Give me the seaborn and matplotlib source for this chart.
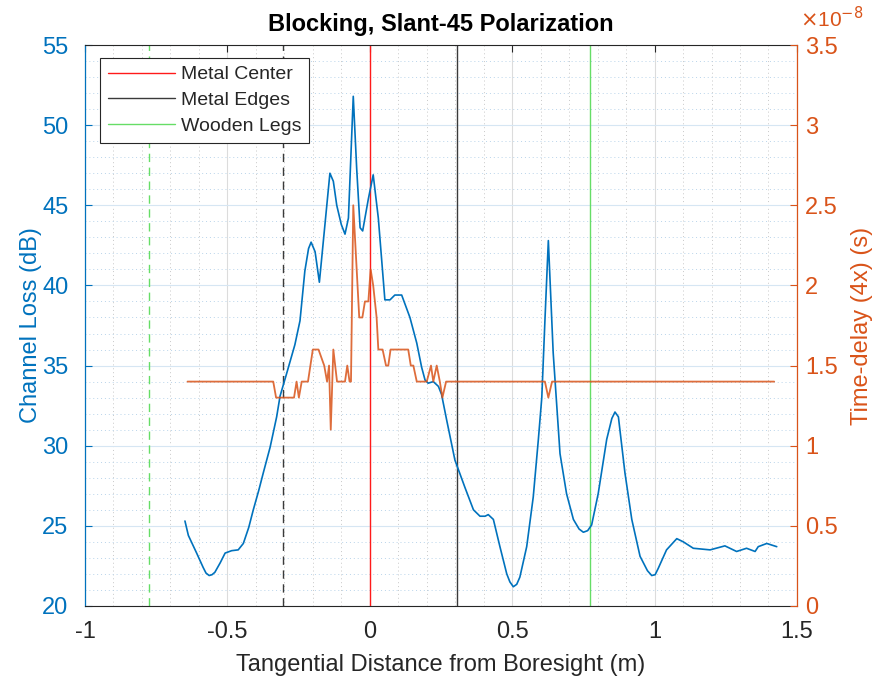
import matplotlib
matplotlib.use("Agg")
import matplotlib.pyplot as plt
from matplotlib.ticker import MultipleLocator, FuncFormatter
import pandas as pd
import seaborn as sns

# Channel loss vs. tangential distance (m, dB)
distance_loss = [
    -0.649, -0.637, -0.608, -0.585, -0.575, -0.564, -0.554, -0.544, -0.525, -0.508,
    -0.485, -0.462, -0.444, -0.425, -0.409, -0.390, -0.374, -0.350, -0.327, -0.315,
    -0.292, -0.263, -0.245, -0.228, -0.215, -0.206, -0.192, -0.177, -0.140, -0.128,
    -0.116, -0.100, -0.087, -0.075, -0.058, -0.046, -0.034, -0.025, -0.005, 0.012,
    0.030, 0.053, 0.071, 0.088, 0.112, 0.141, 0.165, 0.182, 0.194, 0.205,
    0.223, 0.241, 0.252, 0.270, 0.299, 0.334, 0.364, 0.387, 0.405, 0.416,
    0.434, 0.457, 0.481, 0.492, 0.504, 0.516, 0.527, 0.551, 0.574, 0.592,
    0.604, 0.615, 0.627, 0.644, 0.668, 0.691, 0.715, 0.735, 0.750, 0.765,
    0.779, 0.802, 0.832, 0.850, 0.861, 0.873, 0.896, 0.920, 0.949, 0.975,
    0.990, 1.002, 1.013, 1.042, 1.078, 1.101, 1.136, 1.195, 1.247, 1.288,
    1.323, 1.353, 1.364, 1.394, 1.429,
]
channel_loss_db = [
    25.3, 24.4, 23.3, 22.4, 22.05, 21.9, 21.95, 22.1, 22.7, 23.3,
    23.45, 23.5, 23.9, 24.9, 26.0, 27.2, 28.3, 29.9, 31.8, 33.1,
    34.5, 36.3, 37.8, 40.9, 42.3, 42.7, 42.1, 40.2, 47.0, 46.5,
    45.0, 43.8, 43.2, 44.2, 51.8, 47.3, 43.6, 43.4, 45.4, 46.9,
    44.2, 39.1, 39.1, 39.4, 39.4, 38.0, 36.4, 34.9, 34.1, 33.9,
    34.0, 33.7, 33.2, 31.6, 29.1, 27.4, 26.0, 25.6, 25.6, 25.7,
    25.4, 23.7, 22.0, 21.5, 21.2, 21.35, 21.8, 23.7, 26.8, 30.4,
    33.0, 37.8, 42.8, 35.8, 29.5, 27.0, 25.4, 24.8, 24.6, 24.7,
    25.05, 27.0, 30.4, 31.7, 32.1, 31.8, 28.3, 25.4, 23.1, 22.2,
    21.9, 21.95, 22.35, 23.5, 24.2, 24.0, 23.6, 23.5, 23.75, 23.4,
    23.6, 23.4, 23.7, 23.9, 23.7,
]

# Time-delay (4x) vs. tangential distance, in units of 1e-8 s
distance_delay = [
    -0.640, -0.339, -0.329, -0.266, -0.257, -0.249, -0.239, -0.217, -0.200, -0.180,
    -0.160, -0.150, -0.143, -0.137, -0.128, -0.115, -0.087, -0.079, -0.071, -0.066,
    -0.058, -0.037, -0.026, -0.017, -0.005, 0.003, 0.012, 0.024, 0.030, 0.045,
    0.057, 0.065, 0.073, 0.135, 0.144, 0.153, 0.165, 0.200, 0.215, 0.223,
    0.235, 0.246, 0.255, 0.268, 0.615, 0.627, 0.640, 1.420,
]
time_delay_e8 = [
    1.4, 1.4, 1.3, 1.3, 1.4, 1.3, 1.4, 1.4, 1.6, 1.6,
    1.5, 1.4, 1.5, 1.1, 1.6, 1.4, 1.4, 1.5, 1.4, 1.4,
    2.5, 1.8, 1.8, 1.9, 1.9, 2.1, 2.0, 1.8, 1.6, 1.6,
    1.5, 1.5, 1.6, 1.6, 1.5, 1.5, 1.4, 1.4, 1.5, 1.4,
    1.5, 1.4, 1.3, 1.4, 1.4, 1.3, 1.4, 1.4,
]
DELAY_UNIT = 1e-8

# Obstacle reference positions (m)
metal_center = 0.0
metal_edges = [-0.305, 0.305]
wooden_legs = [-0.775, 0.775]

BLUE = "#0072BD"
ORANGE = "#D95319"
DARK = "#262626"

loss_df = pd.DataFrame({"distance": distance_loss, "loss": channel_loss_db})
delay_df = pd.DataFrame({"distance": distance_delay,
                         "delay": [v * DELAY_UNIT for v in time_delay_e8]})

sns.set_style("white")
plt.rcParams["font.family"] = ["Liberation Sans", "DejaVu Sans"]

fig = plt.figure(figsize=(8.78, 6.76), dpi=100)
ax = fig.add_axes([0.0968, 0.1036, 0.8109, 0.8298])
ax2 = ax.twinx()

sns.lineplot(data=loss_df, x="distance", y="loss", ax=ax, color=BLUE,
             lw=1.2, zorder=3, sort=False, legend=False)
sns.lineplot(data=delay_df, x="distance", y="delay", ax=ax2, color=ORANGE,
             lw=1.3, alpha=0.85, zorder=3, sort=False, legend=False)

# Reference lines for the obstacle geometry
center_line = ax.axvline(metal_center, color="#ff1a1a", lw=1.0, zorder=2)
edge_line = ax.axvline(metal_edges[1], color="#3a3a3a", lw=1.0, zorder=2)
ax.axvline(metal_edges[0], color="#3a3a3a", lw=1.0, ls=(0, (6, 4)), zorder=2)
leg_line = ax.axvline(wooden_legs[1], color="#66dd66", lw=1.0, zorder=2)
ax.axvline(wooden_legs[0], color="#66dd66", lw=1.0, ls=(0, (6, 4)), zorder=2)

# Left axis: channel loss
ax.set_xlim(-1, 1.5)
ax.set_ylim(20, 55)
ax.xaxis.set_major_locator(MultipleLocator(0.5))
ax.xaxis.set_minor_locator(MultipleLocator(0.1))
ax.yaxis.set_major_locator(MultipleLocator(5))
ax.yaxis.set_minor_locator(MultipleLocator(1))
ax.xaxis.set_major_formatter(FuncFormatter(lambda v, p: f"{v:g}"))

ax.xaxis.grid(True, which="major", color="#dcdcdc", lw=0.8)
ax.xaxis.grid(True, which="minor", color="#c8c8c8", lw=0.7, ls=(0, (1, 3)))
ax.yaxis.grid(True, which="major", color="#d6e6f3", lw=0.8)
ax.yaxis.grid(True, which="minor", color="#b9d4ea", lw=0.7, ls=(0, (1, 3)))
ax.set_axisbelow(True)

ax.set_xlabel("Tangential Distance from Boresight (m)", fontsize=17, color=DARK, labelpad=8)
ax.set_ylabel("Channel Loss (dB)", fontsize=17, color=BLUE, labelpad=0)
ax.set_title("Blocking, Slant-45 Polarization", fontsize=17, fontweight="bold",
             color="black", pad=10)

ax.tick_params(axis="x", which="major", direction="in", length=5, width=0.8,
               colors=DARK, labelsize=17, top=True, pad=11)
ax.tick_params(axis="x", which="minor", length=0, top=False, bottom=False)
ax.tick_params(axis="y", which="major", direction="in", length=5, width=0.8,
               colors=BLUE, labelsize=17, right=False, pad=12)
ax.tick_params(axis="y", which="minor", length=0)

# Right axis: time delay
ax2.set_ylim(0, 3.5e-8)
ax2.yaxis.set_major_locator(MultipleLocator(0.5e-8))
ax2.yaxis.set_major_formatter(FuncFormatter(lambda v, p: f"{v / DELAY_UNIT:g}"))
ax2.set_ylabel("Time-delay (4x) (s)", fontsize=17, color=ORANGE, labelpad=9)
ax2.tick_params(axis="y", which="major", direction="in", length=5, width=0.8,
                colors=ORANGE, labelsize=17, pad=6)
ax2.grid(False)
ax2.text(1.004, 1.025, r"$\times$10$^{-8}$", transform=ax2.transAxes,
         color=ORANGE, fontsize=15, ha="left", va="bottom")

for side in ("top", "bottom"):
    ax.spines[side].set_color(DARK)
    ax.spines[side].set_linewidth(0.8)
    ax2.spines[side].set_visible(False)
ax.spines["left"].set_color(BLUE)
ax.spines["left"].set_linewidth(0.9)
ax.spines["right"].set_visible(False)
ax2.spines["left"].set_visible(False)
ax2.spines["right"].set_color(ORANGE)
ax2.spines["right"].set_linewidth(0.9)

leg = ax2.legend([center_line, edge_line, leg_line],
                 ["Metal Center", "Metal Edges", "Wooden Legs"], loc="upper left",
                 bbox_to_anchor=(0.021, 0.977), borderaxespad=0, fancybox=False,
                 framealpha=1, edgecolor=DARK, fontsize=14, handlelength=3.45,
                 handletextpad=0.3, labelspacing=0.42, borderpad=0.4)
leg.get_frame().set_linewidth(0.8)
leg.set_zorder(10)

fig.savefig("out.png", dpi=100, facecolor="white")
